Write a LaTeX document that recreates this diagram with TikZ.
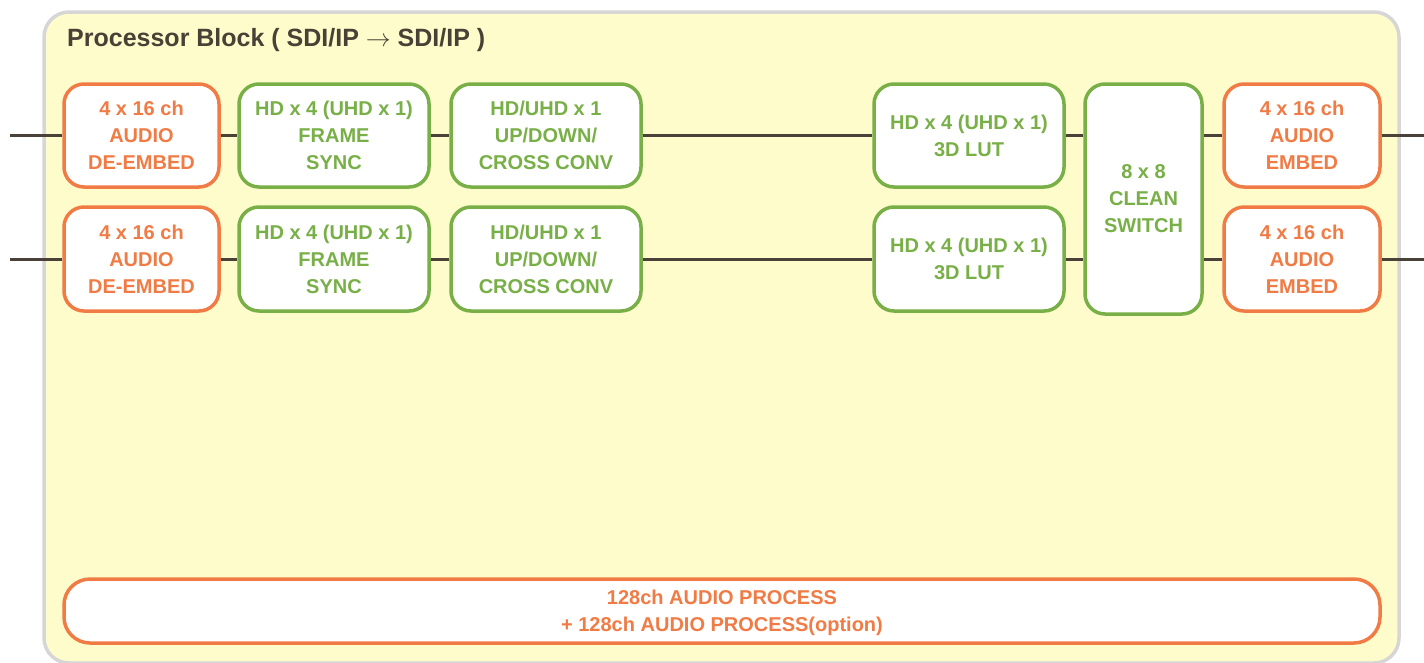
\documentclass[tikz,border=0pt]{standalone}
\usepackage{fontspec}
\setmainfont{Liberation Sans}
\definecolor{borange}{HTML}{F07B45}
\definecolor{bgreen}{HTML}{78AF47}
\definecolor{byellow}{HTML}{FFFCCB}
\definecolor{bgray}{HTML}{D6D6D6}
\definecolor{bline}{HTML}{4A4238}
\definecolor{btitle}{HTML}{4A4036}
\tikzset{
  boxbase/.style={line width=3.5pt, fill=white, rounded corners=20pt, align=center, inner sep=0pt,
    font=\fontsize{20}{27}\selectfont\bfseries},
  obox/.style={boxbase, draw=borange, text=borange},
  gbox/.style={boxbase, draw=bgreen, text=bgreen},
  wire/.style={draw=bline, line width=3pt},
}
\begin{document}
\begin{tikzpicture}[x=1pt,y=-1pt]
\useasboundingbox (0,0) rectangle (1424,662);
\node[draw=bgray, line width=3.5pt, fill=byellow, rounded corners=25pt, minimum width=1355pt, minimum height=651pt, inner sep=0pt] (block) at (721.5,337.5) {};
\node[anchor=base west, text=btitle, font=\fontsize{25}{28}\selectfont\bfseries, inner sep=0pt] (title) at (67,46.5) {Processor Block ( SDI/IP $\rightarrow$ SDI/IP )};
% row 1
\node[obox, minimum width=155pt, minimum height=103pt] (ad1) at (141.5,135.5) {4 x 16 ch\\AUDIO\\DE-EMBED};
\node[gbox, minimum width=190pt, minimum height=103pt] (fs1) at (334,135.5) {HD x 4 (UHD x 1)\\FRAME\\SYNC};
\node[gbox, minimum width=190pt, minimum height=103pt] (ud1) at (546,135.5) {HD/UHD x 1\\UP/DOWN/\\CROSS CONV};
\node[gbox, minimum width=190pt, minimum height=103pt] (lut1) at (969,135.5) {HD x 4 (UHD x 1)\\3D LUT};
\node[obox, minimum width=156pt, minimum height=103pt] (ae1) at (1302,135.5) {4 x 16 ch\\AUDIO\\EMBED};
% row 2
\node[obox, minimum width=155pt, minimum height=104pt] (ad2) at (141.5,259) {4 x 16 ch\\AUDIO\\DE-EMBED};
\node[gbox, minimum width=190pt, minimum height=104pt] (fs2) at (334,259) {HD x 4 (UHD x 1)\\FRAME\\SYNC};
\node[gbox, minimum width=190pt, minimum height=104pt] (ud2) at (546,259) {HD/UHD x 1\\UP/DOWN/\\CROSS CONV};
\node[gbox, minimum width=190pt, minimum height=104pt] (lut2) at (969,259) {HD x 4 (UHD x 1)\\3D LUT};
\node[obox, minimum width=156pt, minimum height=104pt] (ae2) at (1302,259) {4 x 16 ch\\AUDIO\\EMBED};
% clean switch
\node[gbox, minimum width=117pt, minimum height=230pt] (cs) at (1143.5,199) {8 x 8\\CLEAN\\SWITCH};
% audio process
\node[obox, rounded corners=26pt, minimum width=1316pt, minimum height=64pt, text depth=0pt] (ap) at (722,611) {128ch AUDIO PROCESS\\+ 128ch AUDIO PROCESS(option)};
% wires
\coordinate (in1) at (10,135.5);
\coordinate (in2) at (10,259);
\coordinate (out1) at (1424,135.5);
\coordinate (out2) at (1424,259);
\foreach \r in {1,2}{
  \draw[wire] (in\r) -- (ad\r.west);
  \draw[wire] (ad\r.east) -- (fs\r.west);
  \draw[wire] (fs\r.east) -- (ud\r.west);
  \draw[wire] (ud\r.east) -- (lut\r.west);
  \draw[wire] (lut\r.east) -- (lut\r.east -| cs.west);
  \draw[wire] (ae\r.west -| cs.east) -- (ae\r.west);
  \draw[wire] (ae\r.east) -- (out\r);
}
\end{tikzpicture}
\end{document}
